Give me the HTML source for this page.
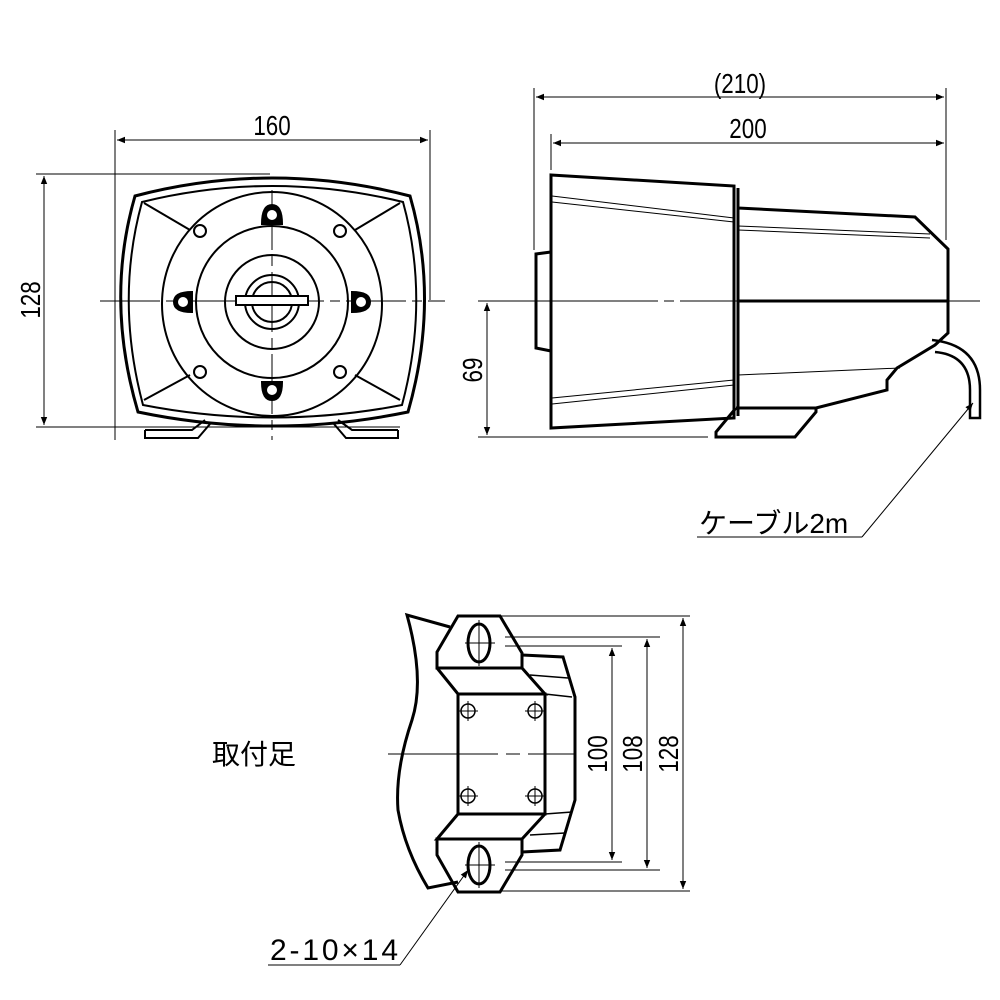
<!DOCTYPE html>
<html><head><meta charset="utf-8"><style>
html,body{margin:0;padding:0;background:#fff}
svg{display:block}
.t{font-family:"Liberation Sans","Noto Sans CJK JP",sans-serif;fill:#000}
</style></head><body>
<svg width="1000" height="1000" viewBox="0 0 1000 1000" xmlns="http://www.w3.org/2000/svg">
<defs>
<marker id="a" viewBox="0 0 10 10" refX="10" refY="5" markerWidth="12" markerHeight="8" orient="auto-start-reverse" markerUnits="userSpaceOnUse"><path d="M0,1 L10,5 L0,9 Z" fill="#000"/></marker>
</defs>
<g fill="none" stroke="#000">
<g stroke-width="1">
<line x1="115" y1="130" x2="115" y2="440"/>
<line x1="430" y1="130" x2="430" y2="300"/>
<line x1="117" y1="140" x2="428" y2="140" marker-start="url(#a)" marker-end="url(#a)"/>
<line x1="36" y1="174" x2="270" y2="174"/>
<line x1="36" y1="427" x2="400" y2="427"/>
<line x1="44" y1="176" x2="44" y2="425" marker-start="url(#a)" marker-end="url(#a)"/>
<line x1="100" y1="301" x2="445" y2="301" stroke-dasharray="60,6,10,6"/>
<line x1="272" y1="190" x2="272" y2="440" stroke-dasharray="60,6,10,6"/>
</g>
<g stroke-width="3">
<path d="M135,196 Q272,160 410,196 Q440,300 408,412 Q272,440 138,412 Q105,300 135,196 Z"/>
</g>
<g stroke-width="2">
<path d="M142,202 Q272,170 403,202 Q430,300 402,405 Q272,430 143,405 Q115,300 142,202 Z"/>
<line x1="144" y1="203" x2="190" y2="230"/><line x1="400" y1="203" x2="355" y2="230"/>
<line x1="144" y1="400" x2="190" y2="375"/><line x1="400" y1="400" x2="355" y2="375"/>
<ellipse cx="272" cy="304" rx="110" ry="112"/>
<circle cx="272" cy="302" r="76"/>
<circle cx="272" cy="302" r="47"/>
<circle cx="272" cy="302" r="27"/>
<circle cx="272" cy="302" r="20"/>
<rect x="236" y="296" width="72" height="9" fill="#fff"/>
<path d="M145,430 L192,430 L205,420 M210,424 L198,438 L145,438 L145,430"/>
<path d="M398,430 L352,430 L338,420 M334,424 L346,438 L398,438 L398,430"/>
</g>
<g stroke-width="2" fill="#fff">
<path d="M262,224 Q262,205 272,205 Q282,205 282,224 Z" fill="#000"/>
<circle cx="272" cy="215" r="6"/>
<path d="M262,382 Q262,400 272,400 Q282,400 282,382 Z" fill="#000"/>
<circle cx="272" cy="390" r="6"/>
<path d="M192,292 Q174,292 174,302 Q174,312 192,312 Z" fill="#000"/>
<circle cx="183" cy="302" r="6"/>
<path d="M352,292 Q370,292 370,302 Q370,312 352,312 Z" fill="#000"/>
<circle cx="361" cy="302" r="6"/>
<circle cx="200" cy="231" r="6"/><circle cx="340" cy="231" r="6"/>
<circle cx="200" cy="372" r="6"/><circle cx="340" cy="372" r="6"/>
</g>

<g stroke-width="1">
<line x1="534" y1="88" x2="534" y2="250"/>
<line x1="946" y1="88" x2="946" y2="240"/>
<line x1="551" y1="134" x2="551" y2="170"/>
<line x1="536" y1="97" x2="944" y2="97" marker-start="url(#a)" marker-end="url(#a)"/>
<line x1="553" y1="143" x2="944" y2="143" marker-start="url(#a)" marker-end="url(#a)"/>
<line x1="478" y1="301" x2="980" y2="301" stroke-dasharray="180,6,10,6"/>
<line x1="478" y1="437" x2="708" y2="437"/>
<line x1="487" y1="303" x2="487" y2="435" marker-start="url(#a)" marker-end="url(#a)"/>
<line x1="552" y1="196" x2="734" y2="218"/><line x1="552" y1="202" x2="734" y2="222"/>
<line x1="738" y1="226" x2="930" y2="234"/><line x1="738" y1="230" x2="930" y2="238"/>
<line x1="552" y1="398" x2="734" y2="380"/><line x1="552" y1="404" x2="734" y2="385"/>
<line x1="738" y1="375" x2="900" y2="368"/>
<line x1="862" y1="537" x2="973" y2="403" marker-end="url(#a)"/>
<line x1="697" y1="537" x2="862" y2="537"/>
</g>
<g stroke-width="3">
<path d="M551,175 L734,186 L734,418 L551,428 Z"/>
<path d="M551,252 L536,254 L536,348 L551,351"/>
<path d="M738,188 L738,416 M738,208 L915,217 L948,249 L948,333 L935,345 L897,368 L887,380 L887,390 L816,408 L736,408"/>
<path d="M738,301 L948,301"/>
<path d="M736,408 L716,432 L716,437 L795,437 L816,412 L816,408"/>
<path d="M932,340 Q980,345 980,390 L980,418 L970,418 L970,390 Q970,355 935,352" stroke-width="2.5"/>
</g>

<g stroke-width="1">
<line x1="388" y1="754" x2="575" y2="754" stroke-dasharray="110,8,14,8"/>
<line x1="500" y1="616" x2="690" y2="616"/>
<line x1="500" y1="891" x2="690" y2="891"/>
<line x1="505" y1="637" x2="660" y2="637"/>
<line x1="505" y1="870" x2="660" y2="870"/>
<line x1="505" y1="646" x2="622" y2="646"/>
<line x1="505" y1="862" x2="622" y2="862"/>
<line x1="683" y1="618" x2="683" y2="889" marker-start="url(#a)" marker-end="url(#a)"/>
<line x1="647" y1="639" x2="647" y2="868" marker-start="url(#a)" marker-end="url(#a)"/>
<line x1="612" y1="648" x2="612" y2="860" marker-start="url(#a)" marker-end="url(#a)"/>
<line x1="465" y1="643" x2="495" y2="643"/><line x1="479" y1="620" x2="479" y2="666"/>
<line x1="465" y1="865" x2="495" y2="865"/><line x1="479" y1="842" x2="479" y2="888"/>
<line x1="400" y1="965" x2="268" y2="965"/>
<line x1="400" y1="965" x2="468" y2="870" marker-end="url(#a)"/>
<line x1="458" y1="711" x2="478" y2="711"/><line x1="468" y1="701" x2="468" y2="721"/>
<line x1="525" y1="711" x2="545" y2="711"/><line x1="535" y1="701" x2="535" y2="721"/>
<line x1="458" y1="796" x2="478" y2="796"/><line x1="468" y1="786" x2="468" y2="806"/>
<line x1="525" y1="796" x2="545" y2="796"/><line x1="535" y1="786" x2="535" y2="806"/>
</g>
<g stroke-width="3">
<path d="M450,627 L407,615 Q425,680 412,720 Q395,770 398,810 Q405,850 428,888 L458,882"/>
<path d="M458,616 L500,616 L522,653 L522,668 L437,668 L437,652 Z"/>
<path d="M437,668 L458,694 L545,694 L522,668"/>
<rect x="458" y="694" width="87" height="120"/>
<path d="M458,814 L437,839 L522,839 L545,814"/>
<path d="M437,839 L522,839 L522,855 L500,892 L458,892 L437,855 Z"/>
<ellipse cx="479" cy="643" rx="11" ry="19"/>
<ellipse cx="479" cy="865" rx="11" ry="19"/>
<path d="M522,655 L563,657 L575,697 L575,800 L560,850 L522,852"/>
</g>
<g stroke-width="1.5">
<line x1="530" y1="675" x2="568" y2="678"/><line x1="545" y1="694" x2="572" y2="697"/>
<line x1="545" y1="814" x2="572" y2="812"/><line x1="530" y1="835" x2="565" y2="833"/>
<circle cx="468" cy="711" r="7"/><circle cx="535" cy="711" r="7"/>
<circle cx="468" cy="796" r="7"/><circle cx="535" cy="796" r="7"/>
</g>
</g>

<g class="t" font-size="28">
<text x="272" y="135" text-anchor="middle" transform="translate(272,0) scale(0.8,1) translate(-272,0)">160</text>
<text x="740" y="93" text-anchor="middle" transform="translate(740,0) scale(0.8,1) translate(-740,0)">(210)</text>
<text x="748" y="138" text-anchor="middle" transform="translate(748,0) scale(0.8,1) translate(-748,0)">200</text>
<text transform="translate(40,300) rotate(-90) scale(0.8,1)" text-anchor="middle">128</text>
<text transform="translate(482,370) rotate(-90) scale(0.8,1)" text-anchor="middle">69</text>
<text transform="translate(607,754) rotate(-90) scale(0.8,1)" text-anchor="middle">100</text>
<text transform="translate(642,754) rotate(-90) scale(0.8,1)" text-anchor="middle">108</text>
<text transform="translate(678,754) rotate(-90) scale(0.8,1)" text-anchor="middle">128</text>
<text x="699" y="533" font-size="28">ケーブル2m</text>
<text x="212" y="764" font-size="28">取付足</text>
<text x="270" y="960" font-size="30" textLength="128">2-10×14</text>
</g>
</svg>
</body></html>
